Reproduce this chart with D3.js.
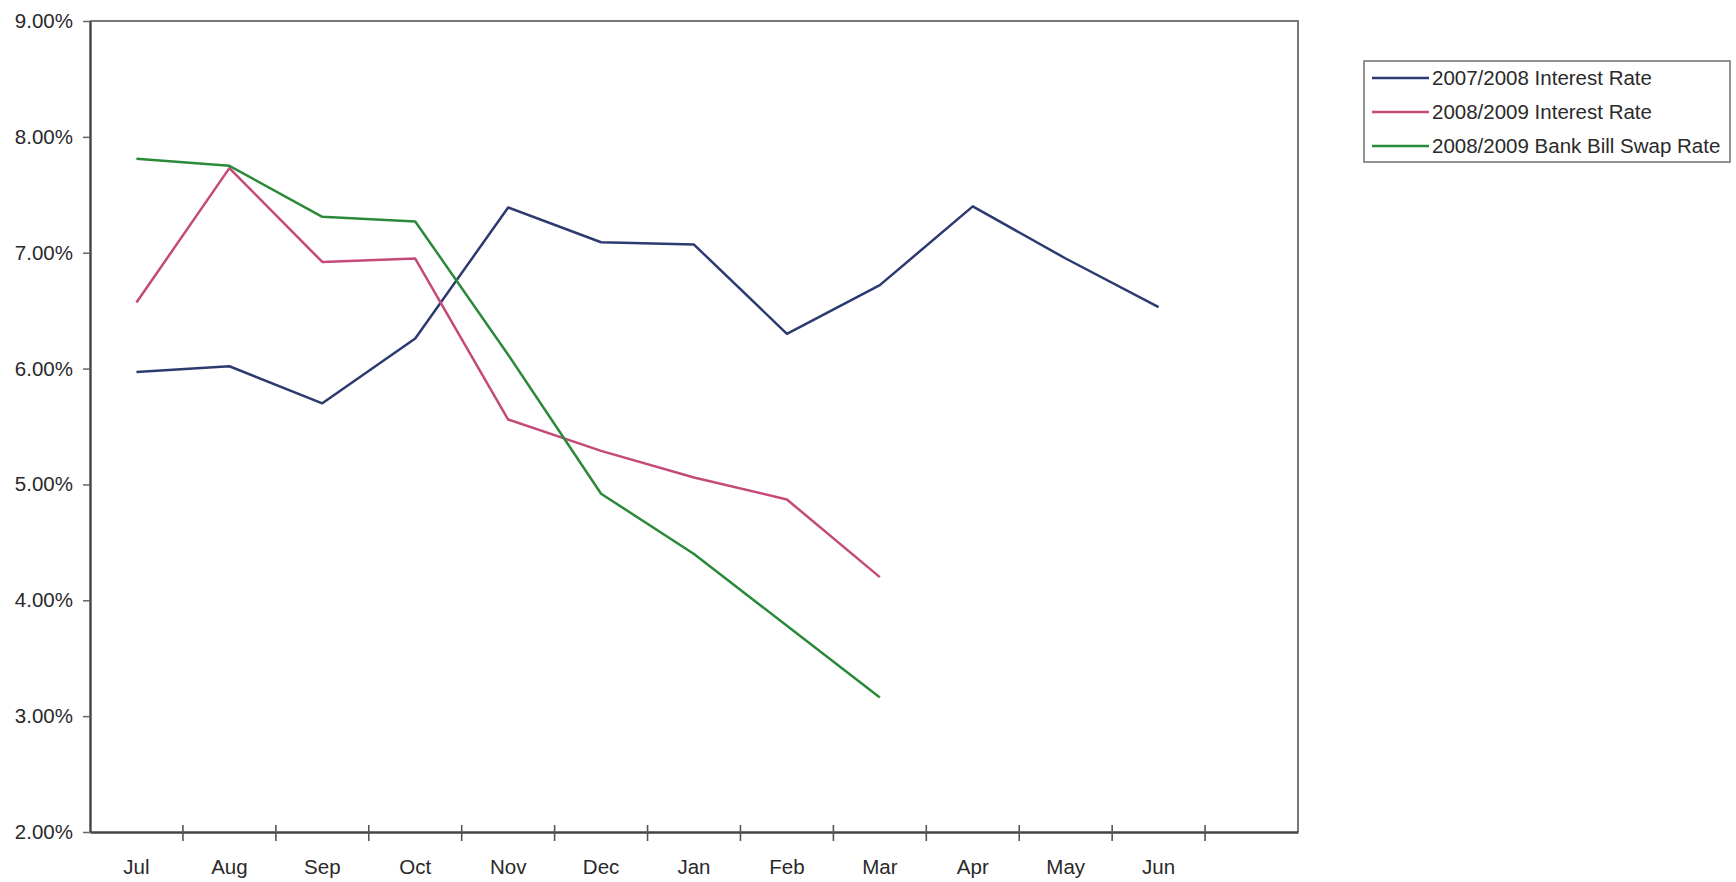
<!DOCTYPE html>
<html>
<head>
<meta charset="utf-8">
<script src="https://cdn.jsdelivr.net/npm/d3@7"></script>
<style>
  html, body { margin: 0; padding: 0; background: #ffffff; }
  svg { display: block; }
  text { font-family: "Liberation Sans", Arial, sans-serif; fill: #2a2a2a; }
</style>
</head>
<body>
<svg id="chart" width="1736" height="882"></svg>
<script>
// ---- data ----
const months = ["Jul","Aug","Sep","Oct","Nov","Dec","Jan","Feb","Mar","Apr","May","Jun",""];
const seriesNames = ["2007/2008 Interest Rate","2008/2009 Interest Rate","2008/2009 Bank Bill Swap Rate"];
const rate0708 = [5.97, 6.02, 5.70, 6.26, 7.39, 7.09, 7.07, 6.30, 6.72, 7.40, 6.95, 6.53];
const rate0809 = [6.57, 7.73, 6.92, 6.95, 5.56, 5.29, 5.06, 4.87, 4.20];
const swap0809 = [7.81, 7.75, 7.31, 7.27, 6.12, 4.92, 4.40, 3.78, 3.16];
const yTicks = [2, 3, 4, 5, 6, 7, 8, 9];
const colors = ["#2d3a70", "#c44a79", "#2b8a3a"];

(function () {
  const FONT = "Liberation Sans, Arial, sans-serif";
  const svg = d3.select("#chart");
  const pL = 90, pR = 1298, pT = 21, pB = 832;

  const x = d3.scaleBand().domain(months.map((m, i) => i)).range([pL, pR]).padding(0);
  const y = d3.scaleLinear().domain([2, 9]).range([pB, pT]);

  // plot frame (top and right)
  svg.append("path")
    .attr("d", `M${pL},${pT}H${pR}V${pB}`)
    .attr("fill", "none").attr("stroke", "#777").attr("stroke-width", 2);

  // y axis
  const yAxis = d3.axisLeft(y).tickValues(yTicks).tickSize(0)
    .tickFormat(d => d3.format(".2f")(d) + "%");
  const gy = svg.append("g").attr("transform", `translate(${pL},0)`).call(yAxis);
  gy.select(".domain").attr("stroke", "#444").attr("stroke-width", 2.4);
  gy.selectAll(".tick text").attr("x", -17).attr("font-size", 20.5).attr("fill", "#2a2a2a")
    .attr("font-family", FONT);
  gy.selectAll(".tick").append("line").attr("x1", -7).attr("x2", 0)
    .attr("stroke", "#666").attr("stroke-width", 1.5);

  // x axis
  const xAxis = d3.axisBottom(x).tickSize(0).tickFormat(i => months[i]);
  const gx = svg.append("g").attr("transform", `translate(0,${pB})`).call(xAxis);
  gx.select(".domain").attr("stroke", "#444").attr("stroke-width", 2.4);
  gx.selectAll(".tick text").attr("y", 27).attr("dy", "0.71em").attr("font-size", 20.5)
    .attr("fill", "#2a2a2a").attr("font-family", FONT);
  // crossing ticks at band boundaries
  const boundaries = months.map((m, i) => i).slice(1);
  svg.append("g").selectAll("line").data(boundaries).join("line")
    .attr("x1", d => x(d)).attr("x2", d => x(d))
    .attr("y1", pB - 7).attr("y2", pB + 9)
    .attr("stroke", "#555").attr("stroke-width", 1.6);

  // lines
  const line = d3.line().x((d, i) => x(i) + x.bandwidth() / 2).y(d => y(d));
  [rate0708, rate0809, swap0809].forEach((s, k) => {
    svg.append("path").datum(s)
      .attr("d", line)
      .attr("fill", "none")
      .attr("stroke", colors[k])
      .attr("stroke-width", 2.5)
      .attr("stroke-linejoin", "round");
  });

  // legend
  const lg = svg.append("g");
  lg.append("rect").attr("x", 1364).attr("y", 61).attr("width", 366).attr("height", 101)
    .attr("fill", "#fff").attr("stroke", "#777").attr("stroke-width", 1.6);
  seriesNames.forEach((n, k) => {
    const cy = 78 + k * 34;
    lg.append("line").attr("x1", 1372).attr("x2", 1429).attr("y1", cy).attr("y2", cy)
      .attr("stroke", colors[k]).attr("stroke-width", 2.5);
    lg.append("text").attr("x", 1432).attr("y", cy).attr("dy", "0.35em")
      .attr("font-size", 20.5).attr("fill", "#2a2a2a").attr("font-family", FONT).text(n);
  });
})();
</script>
</body>
</html>
